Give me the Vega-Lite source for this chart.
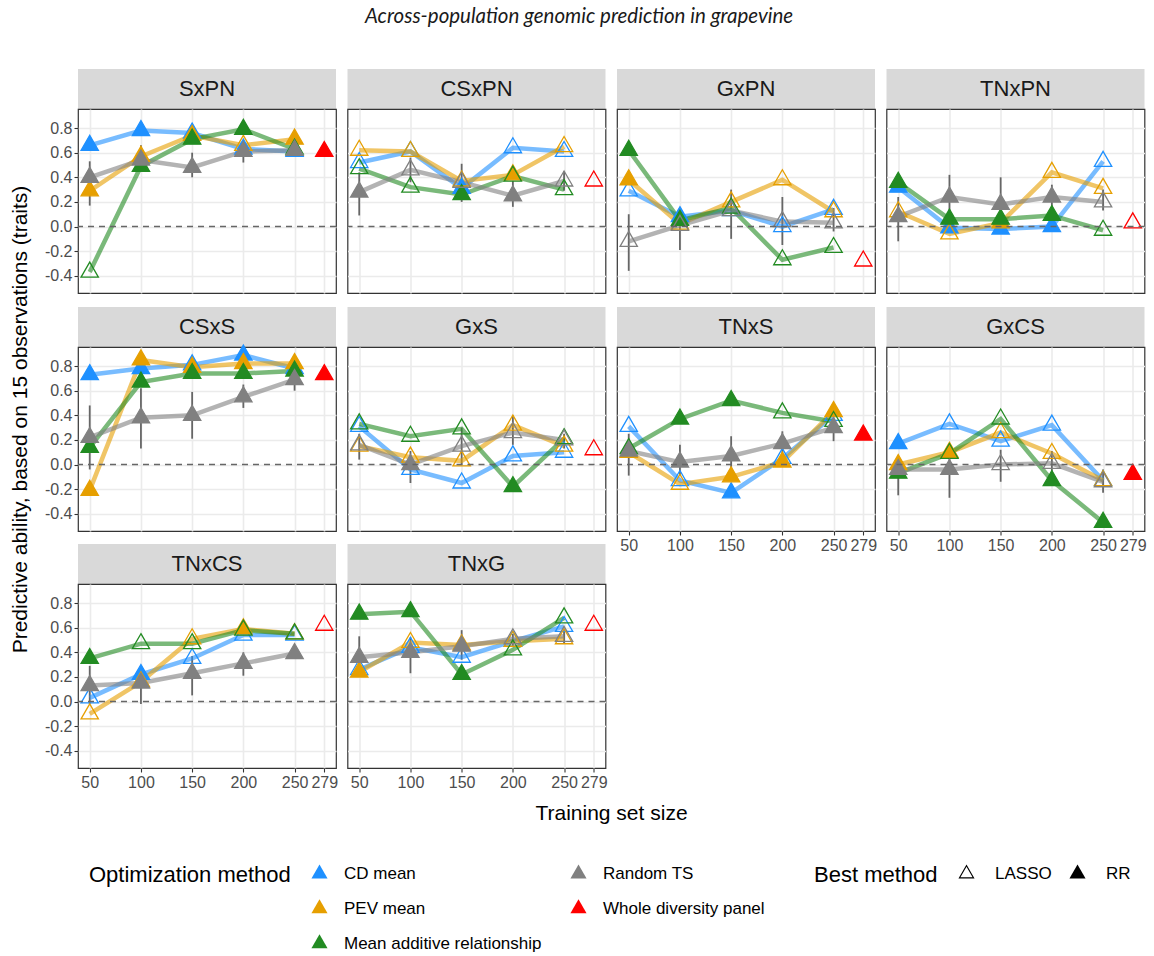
{
  "$schema": "https://vega.github.io/schema/vega-lite/v6.json",
  "autosize": {"type": "pad"},
  "padding": {"left": 8, "top": 6, "right": 0, "bottom": 0},
  "background": "white",
  "title": {"text": "Across-population genomic prediction in grapevine", "font": "Lato", "fontStyle": "italic", "fontWeight": "normal", "fontSize": 20.5, "color": "#1a1a1a", "anchor": "start", "frame": "group", "dx": 287, "baseline": "alphabetic", "offset": 26},
  "datasets": {
    "pts": [
      {"panel": "SxPN", "method": "CD mean", "size": 50, "value": 0.66, "best": "RR"},
      {"panel": "SxPN", "method": "CD mean", "size": 100, "value": 0.78, "best": "RR"},
      {"panel": "SxPN", "method": "CD mean", "size": 150, "value": 0.76, "best": "RR"},
      {"panel": "SxPN", "method": "CD mean", "size": 200, "value": 0.63, "best": "RR"},
      {"panel": "SxPN", "method": "CD mean", "size": 250, "value": 0.61, "best": "RR"},
      {"panel": "SxPN", "method": "PEV mean", "size": 50, "value": 0.29, "best": "RR"},
      {"panel": "SxPN", "method": "PEV mean", "size": 100, "value": 0.57, "best": "RR"},
      {"panel": "SxPN", "method": "PEV mean", "size": 150, "value": 0.74, "best": "RR"},
      {"panel": "SxPN", "method": "PEV mean", "size": 200, "value": 0.66, "best": "LASSO"},
      {"panel": "SxPN", "method": "PEV mean", "size": 250, "value": 0.71, "best": "RR"},
      {"panel": "SxPN", "method": "Mean additive relationship", "size": 50, "value": -0.37, "best": "LASSO"},
      {"panel": "SxPN", "method": "Mean additive relationship", "size": 100, "value": 0.49, "best": "RR"},
      {"panel": "SxPN", "method": "Mean additive relationship", "size": 150, "value": 0.71, "best": "RR"},
      {"panel": "SxPN", "method": "Mean additive relationship", "size": 200, "value": 0.79, "best": "RR"},
      {"panel": "SxPN", "method": "Mean additive relationship", "size": 250, "value": 0.63, "best": "RR"},
      {"panel": "SxPN", "method": "Random TS", "size": 50, "value": 0.40, "best": "RR"},
      {"panel": "SxPN", "method": "Random TS", "size": 100, "value": 0.54, "best": "RR"},
      {"panel": "SxPN", "method": "Random TS", "size": 150, "value": 0.48, "best": "RR"},
      {"panel": "SxPN", "method": "Random TS", "size": 200, "value": 0.61, "best": "RR"},
      {"panel": "SxPN", "method": "Random TS", "size": 250, "value": 0.62, "best": "RR"},
      {"panel": "SxPN", "method": "Whole diversity panel", "size": 279, "value": 0.61, "best": "RR"},

      {"panel": "CSxPN", "method": "CD mean", "size": 50, "value": 0.52, "best": "LASSO"},
      {"panel": "CSxPN", "method": "CD mean", "size": 100, "value": 0.61, "best": "LASSO"},
      {"panel": "CSxPN", "method": "CD mean", "size": 150, "value": 0.31, "best": "RR"},
      {"panel": "CSxPN", "method": "CD mean", "size": 200, "value": 0.64, "best": "LASSO"},
      {"panel": "CSxPN", "method": "CD mean", "size": 250, "value": 0.61, "best": "LASSO"},
      {"panel": "CSxPN", "method": "PEV mean", "size": 50, "value": 0.62, "best": "LASSO"},
      {"panel": "CSxPN", "method": "PEV mean", "size": 100, "value": 0.61, "best": "LASSO"},
      {"panel": "CSxPN", "method": "PEV mean", "size": 150, "value": 0.37, "best": "LASSO"},
      {"panel": "CSxPN", "method": "PEV mean", "size": 200, "value": 0.42, "best": "RR"},
      {"panel": "CSxPN", "method": "PEV mean", "size": 250, "value": 0.65, "best": "LASSO"},
      {"panel": "CSxPN", "method": "Mean additive relationship", "size": 50, "value": 0.47, "best": "LASSO"},
      {"panel": "CSxPN", "method": "Mean additive relationship", "size": 100, "value": 0.32, "best": "LASSO"},
      {"panel": "CSxPN", "method": "Mean additive relationship", "size": 150, "value": 0.26, "best": "RR"},
      {"panel": "CSxPN", "method": "Mean additive relationship", "size": 200, "value": 0.41, "best": "LASSO"},
      {"panel": "CSxPN", "method": "Mean additive relationship", "size": 250, "value": 0.30, "best": "LASSO"},
      {"panel": "CSxPN", "method": "Random TS", "size": 50, "value": 0.28, "best": "RR"},
      {"panel": "CSxPN", "method": "Random TS", "size": 100, "value": 0.46, "best": "LASSO"},
      {"panel": "CSxPN", "method": "Random TS", "size": 150, "value": 0.36, "best": "LASSO"},
      {"panel": "CSxPN", "method": "Random TS", "size": 200, "value": 0.25, "best": "RR"},
      {"panel": "CSxPN", "method": "Random TS", "size": 250, "value": 0.37, "best": "LASSO"},
      {"panel": "CSxPN", "method": "Whole diversity panel", "size": 279, "value": 0.37, "best": "LASSO"},

      {"panel": "GxPN", "method": "CD mean", "size": 50, "value": 0.29, "best": "LASSO"},
      {"panel": "GxPN", "method": "CD mean", "size": 100, "value": 0.08, "best": "RR"},
      {"panel": "GxPN", "method": "CD mean", "size": 150, "value": 0.13, "best": "LASSO"},
      {"panel": "GxPN", "method": "CD mean", "size": 200, "value": 0.0, "best": "LASSO"},
      {"panel": "GxPN", "method": "CD mean", "size": 250, "value": 0.14, "best": "LASSO"},
      {"panel": "GxPN", "method": "PEV mean", "size": 50, "value": 0.38, "best": "RR"},
      {"panel": "GxPN", "method": "PEV mean", "size": 100, "value": 0.02, "best": "LASSO"},
      {"panel": "GxPN", "method": "PEV mean", "size": 150, "value": 0.20, "best": "LASSO"},
      {"panel": "GxPN", "method": "PEV mean", "size": 200, "value": 0.38, "best": "LASSO"},
      {"panel": "GxPN", "method": "PEV mean", "size": 250, "value": 0.12, "best": "LASSO"},
      {"panel": "GxPN", "method": "Mean additive relationship", "size": 50, "value": 0.62, "best": "RR"},
      {"panel": "GxPN", "method": "Mean additive relationship", "size": 100, "value": 0.05, "best": "RR"},
      {"panel": "GxPN", "method": "Mean additive relationship", "size": 150, "value": 0.15, "best": "LASSO"},
      {"panel": "GxPN", "method": "Mean additive relationship", "size": 200, "value": -0.27, "best": "LASSO"},
      {"panel": "GxPN", "method": "Mean additive relationship", "size": 250, "value": -0.17, "best": "LASSO"},
      {"panel": "GxPN", "method": "Random TS", "size": 50, "value": -0.12, "best": "LASSO"},
      {"panel": "GxPN", "method": "Random TS", "size": 100, "value": 0.01, "best": "LASSO"},
      {"panel": "GxPN", "method": "Random TS", "size": 150, "value": 0.13, "best": "LASSO"},
      {"panel": "GxPN", "method": "Random TS", "size": 200, "value": 0.04, "best": "LASSO"},
      {"panel": "GxPN", "method": "Random TS", "size": 250, "value": 0.03, "best": "LASSO"},
      {"panel": "GxPN", "method": "Whole diversity panel", "size": 279, "value": -0.28, "best": "LASSO"},

      {"panel": "TNxPN", "method": "CD mean", "size": 50, "value": 0.32, "best": "RR"},
      {"panel": "TNxPN", "method": "CD mean", "size": 100, "value": -0.01, "best": "RR"},
      {"panel": "TNxPN", "method": "CD mean", "size": 150, "value": -0.02, "best": "RR"},
      {"panel": "TNxPN", "method": "CD mean", "size": 200, "value": 0.0, "best": "RR"},
      {"panel": "TNxPN", "method": "CD mean", "size": 250, "value": 0.53, "best": "LASSO"},
      {"panel": "TNxPN", "method": "PEV mean", "size": 50, "value": 0.12, "best": "LASSO"},
      {"panel": "TNxPN", "method": "PEV mean", "size": 100, "value": -0.06, "best": "LASSO"},
      {"panel": "TNxPN", "method": "PEV mean", "size": 150, "value": 0.03, "best": "RR"},
      {"panel": "TNxPN", "method": "PEV mean", "size": 200, "value": 0.44, "best": "LASSO"},
      {"panel": "TNxPN", "method": "PEV mean", "size": 250, "value": 0.31, "best": "LASSO"},
      {"panel": "TNxPN", "method": "Mean additive relationship", "size": 50, "value": 0.36, "best": "RR"},
      {"panel": "TNxPN", "method": "Mean additive relationship", "size": 100, "value": 0.06, "best": "RR"},
      {"panel": "TNxPN", "method": "Mean additive relationship", "size": 150, "value": 0.06, "best": "RR"},
      {"panel": "TNxPN", "method": "Mean additive relationship", "size": 200, "value": 0.09, "best": "RR"},
      {"panel": "TNxPN", "method": "Mean additive relationship", "size": 250, "value": -0.03, "best": "LASSO"},
      {"panel": "TNxPN", "method": "Random TS", "size": 50, "value": 0.08, "best": "RR"},
      {"panel": "TNxPN", "method": "Random TS", "size": 100, "value": 0.24, "best": "RR"},
      {"panel": "TNxPN", "method": "Random TS", "size": 150, "value": 0.18, "best": "RR"},
      {"panel": "TNxPN", "method": "Random TS", "size": 200, "value": 0.24, "best": "RR"},
      {"panel": "TNxPN", "method": "Random TS", "size": 250, "value": 0.20, "best": "LASSO"},
      {"panel": "TNxPN", "method": "Whole diversity panel", "size": 279, "value": 0.03, "best": "LASSO"},

      {"panel": "CSxS", "method": "CD mean", "size": 50, "value": 0.73, "best": "RR"},
      {"panel": "CSxS", "method": "CD mean", "size": 100, "value": 0.78, "best": "RR"},
      {"panel": "CSxS", "method": "CD mean", "size": 150, "value": 0.81, "best": "RR"},
      {"panel": "CSxS", "method": "CD mean", "size": 200, "value": 0.89, "best": "RR"},
      {"panel": "CSxS", "method": "CD mean", "size": 250, "value": 0.78, "best": "RR"},
      {"panel": "CSxS", "method": "PEV mean", "size": 50, "value": -0.21, "best": "RR"},
      {"panel": "CSxS", "method": "PEV mean", "size": 100, "value": 0.85, "best": "RR"},
      {"panel": "CSxS", "method": "PEV mean", "size": 150, "value": 0.79, "best": "RR"},
      {"panel": "CSxS", "method": "PEV mean", "size": 200, "value": 0.82, "best": "RR"},
      {"panel": "CSxS", "method": "PEV mean", "size": 250, "value": 0.82, "best": "RR"},
      {"panel": "CSxS", "method": "Mean additive relationship", "size": 50, "value": 0.14, "best": "RR"},
      {"panel": "CSxS", "method": "Mean additive relationship", "size": 100, "value": 0.67, "best": "RR"},
      {"panel": "CSxS", "method": "Mean additive relationship", "size": 150, "value": 0.74, "best": "RR"},
      {"panel": "CSxS", "method": "Mean additive relationship", "size": 200, "value": 0.74, "best": "RR"},
      {"panel": "CSxS", "method": "Mean additive relationship", "size": 250, "value": 0.76, "best": "RR"},
      {"panel": "CSxS", "method": "Random TS", "size": 50, "value": 0.22, "best": "RR"},
      {"panel": "CSxS", "method": "Random TS", "size": 100, "value": 0.38, "best": "RR"},
      {"panel": "CSxS", "method": "Random TS", "size": 150, "value": 0.40, "best": "RR"},
      {"panel": "CSxS", "method": "Random TS", "size": 200, "value": 0.55, "best": "RR"},
      {"panel": "CSxS", "method": "Random TS", "size": 250, "value": 0.69, "best": "RR"},
      {"panel": "CSxS", "method": "Whole diversity panel", "size": 279, "value": 0.73, "best": "RR"},

      {"panel": "GxS", "method": "CD mean", "size": 50, "value": 0.31, "best": "LASSO"},
      {"panel": "GxS", "method": "CD mean", "size": 100, "value": -0.04, "best": "LASSO"},
      {"panel": "GxS", "method": "CD mean", "size": 150, "value": -0.15, "best": "LASSO"},
      {"panel": "GxS", "method": "CD mean", "size": 200, "value": 0.07, "best": "LASSO"},
      {"panel": "GxS", "method": "CD mean", "size": 250, "value": 0.10, "best": "LASSO"},
      {"panel": "GxS", "method": "PEV mean", "size": 50, "value": 0.15, "best": "LASSO"},
      {"panel": "GxS", "method": "PEV mean", "size": 100, "value": 0.06, "best": "LASSO"},
      {"panel": "GxS", "method": "PEV mean", "size": 150, "value": 0.03, "best": "LASSO"},
      {"panel": "GxS", "method": "PEV mean", "size": 200, "value": 0.32, "best": "LASSO"},
      {"panel": "GxS", "method": "PEV mean", "size": 250, "value": 0.15, "best": "LASSO"},
      {"panel": "GxS", "method": "Mean additive relationship", "size": 50, "value": 0.33, "best": "LASSO"},
      {"panel": "GxS", "method": "Mean additive relationship", "size": 100, "value": 0.23, "best": "LASSO"},
      {"panel": "GxS", "method": "Mean additive relationship", "size": 150, "value": 0.29, "best": "LASSO"},
      {"panel": "GxS", "method": "Mean additive relationship", "size": 200, "value": -0.18, "best": "RR"},
      {"panel": "GxS", "method": "Mean additive relationship", "size": 250, "value": 0.21, "best": "LASSO"},
      {"panel": "GxS", "method": "Random TS", "size": 50, "value": 0.16, "best": "LASSO"},
      {"panel": "GxS", "method": "Random TS", "size": 100, "value": 0.0, "best": "RR"},
      {"panel": "GxS", "method": "Random TS", "size": 150, "value": 0.15, "best": "LASSO"},
      {"panel": "GxS", "method": "Random TS", "size": 200, "value": 0.26, "best": "LASSO"},
      {"panel": "GxS", "method": "Random TS", "size": 250, "value": 0.20, "best": "LASSO"},
      {"panel": "GxS", "method": "Whole diversity panel", "size": 279, "value": 0.12, "best": "LASSO"},

      {"panel": "TNxS", "method": "CD mean", "size": 50, "value": 0.31, "best": "LASSO"},
      {"panel": "TNxS", "method": "CD mean", "size": 100, "value": -0.13, "best": "LASSO"},
      {"panel": "TNxS", "method": "CD mean", "size": 150, "value": -0.23, "best": "RR"},
      {"panel": "TNxS", "method": "CD mean", "size": 200, "value": 0.05, "best": "LASSO"},
      {"panel": "TNxS", "method": "CD mean", "size": 250, "value": 0.40, "best": "LASSO"},
      {"panel": "TNxS", "method": "PEV mean", "size": 50, "value": 0.10, "best": "RR"},
      {"panel": "TNxS", "method": "PEV mean", "size": 100, "value": -0.16, "best": "LASSO"},
      {"panel": "TNxS", "method": "PEV mean", "size": 150, "value": -0.10, "best": "RR"},
      {"panel": "TNxS", "method": "PEV mean", "size": 200, "value": 0.02, "best": "RR"},
      {"panel": "TNxS", "method": "PEV mean", "size": 250, "value": 0.43, "best": "RR"},
      {"panel": "TNxS", "method": "Mean additive relationship", "size": 50, "value": 0.13, "best": "RR"},
      {"panel": "TNxS", "method": "Mean additive relationship", "size": 100, "value": 0.37, "best": "RR"},
      {"panel": "TNxS", "method": "Mean additive relationship", "size": 150, "value": 0.52, "best": "RR"},
      {"panel": "TNxS", "method": "Mean additive relationship", "size": 200, "value": 0.42, "best": "LASSO"},
      {"panel": "TNxS", "method": "Mean additive relationship", "size": 250, "value": 0.35, "best": "LASSO"},
      {"panel": "TNxS", "method": "Random TS", "size": 50, "value": 0.11, "best": "RR"},
      {"panel": "TNxS", "method": "Random TS", "size": 100, "value": 0.02, "best": "RR"},
      {"panel": "TNxS", "method": "Random TS", "size": 150, "value": 0.07, "best": "RR"},
      {"panel": "TNxS", "method": "Random TS", "size": 200, "value": 0.17, "best": "RR"},
      {"panel": "TNxS", "method": "Random TS", "size": 250, "value": 0.30, "best": "RR"},
      {"panel": "TNxS", "method": "Whole diversity panel", "size": 279, "value": 0.24, "best": "RR"},

      {"panel": "GxCS", "method": "CD mean", "size": 50, "value": 0.17, "best": "RR"},
      {"panel": "GxCS", "method": "CD mean", "size": 100, "value": 0.33, "best": "LASSO"},
      {"panel": "GxCS", "method": "CD mean", "size": 150, "value": 0.19, "best": "LASSO"},
      {"panel": "GxCS", "method": "CD mean", "size": 200, "value": 0.32, "best": "LASSO"},
      {"panel": "GxCS", "method": "CD mean", "size": 250, "value": -0.13, "best": "LASSO"},
      {"panel": "GxCS", "method": "PEV mean", "size": 50, "value": 0.0, "best": "RR"},
      {"panel": "GxCS", "method": "PEV mean", "size": 100, "value": 0.10, "best": "RR"},
      {"panel": "GxCS", "method": "PEV mean", "size": 150, "value": 0.26, "best": "LASSO"},
      {"panel": "GxCS", "method": "PEV mean", "size": 200, "value": 0.09, "best": "LASSO"},
      {"panel": "GxCS", "method": "PEV mean", "size": 250, "value": -0.13, "best": "LASSO"},
      {"panel": "GxCS", "method": "Mean additive relationship", "size": 50, "value": -0.07, "best": "RR"},
      {"panel": "GxCS", "method": "Mean additive relationship", "size": 100, "value": 0.09, "best": "LASSO"},
      {"panel": "GxCS", "method": "Mean additive relationship", "size": 150, "value": 0.37, "best": "LASSO"},
      {"panel": "GxCS", "method": "Mean additive relationship", "size": 200, "value": -0.13, "best": "RR"},
      {"panel": "GxCS", "method": "Mean additive relationship", "size": 250, "value": -0.47, "best": "RR"},
      {"panel": "GxCS", "method": "Random TS", "size": 50, "value": -0.04, "best": "RR"},
      {"panel": "GxCS", "method": "Random TS", "size": 100, "value": -0.04, "best": "RR"},
      {"panel": "GxCS", "method": "Random TS", "size": 150, "value": 0.0, "best": "LASSO"},
      {"panel": "GxCS", "method": "Random TS", "size": 200, "value": 0.01, "best": "LASSO"},
      {"panel": "GxCS", "method": "Random TS", "size": 250, "value": -0.14, "best": "LASSO"},
      {"panel": "GxCS", "method": "Whole diversity panel", "size": 279, "value": -0.08, "best": "RR"},

      {"panel": "TNxCS", "method": "CD mean", "size": 50, "value": 0.03, "best": "LASSO"},
      {"panel": "TNxCS", "method": "CD mean", "size": 100, "value": 0.22, "best": "RR"},
      {"panel": "TNxCS", "method": "CD mean", "size": 150, "value": 0.35, "best": "LASSO"},
      {"panel": "TNxCS", "method": "CD mean", "size": 200, "value": 0.54, "best": "LASSO"},
      {"panel": "TNxCS", "method": "CD mean", "size": 250, "value": 0.54, "best": "LASSO"},
      {"panel": "TNxCS", "method": "PEV mean", "size": 50, "value": -0.10, "best": "LASSO"},
      {"panel": "TNxCS", "method": "PEV mean", "size": 100, "value": 0.16, "best": "RR"},
      {"panel": "TNxCS", "method": "PEV mean", "size": 150, "value": 0.51, "best": "LASSO"},
      {"panel": "TNxCS", "method": "PEV mean", "size": 200, "value": 0.59, "best": "RR"},
      {"panel": "TNxCS", "method": "PEV mean", "size": 250, "value": 0.55, "best": "LASSO"},
      {"panel": "TNxCS", "method": "Mean additive relationship", "size": 50, "value": 0.35, "best": "RR"},
      {"panel": "TNxCS", "method": "Mean additive relationship", "size": 100, "value": 0.47, "best": "LASSO"},
      {"panel": "TNxCS", "method": "Mean additive relationship", "size": 150, "value": 0.47, "best": "LASSO"},
      {"panel": "TNxCS", "method": "Mean additive relationship", "size": 200, "value": 0.58, "best": "LASSO"},
      {"panel": "TNxCS", "method": "Mean additive relationship", "size": 250, "value": 0.55, "best": "LASSO"},
      {"panel": "TNxCS", "method": "Random TS", "size": 50, "value": 0.13, "best": "RR"},
      {"panel": "TNxCS", "method": "Random TS", "size": 100, "value": 0.15, "best": "RR"},
      {"panel": "TNxCS", "method": "Random TS", "size": 150, "value": 0.23, "best": "RR"},
      {"panel": "TNxCS", "method": "Random TS", "size": 200, "value": 0.31, "best": "RR"},
      {"panel": "TNxCS", "method": "Random TS", "size": 250, "value": 0.39, "best": "RR"},
      {"panel": "TNxCS", "method": "Whole diversity panel", "size": 279, "value": 0.62, "best": "LASSO"},

      {"panel": "TNxG", "method": "CD mean", "size": 50, "value": 0.26, "best": "LASSO"},
      {"panel": "TNxG", "method": "CD mean", "size": 100, "value": 0.44, "best": "LASSO"},
      {"panel": "TNxG", "method": "CD mean", "size": 150, "value": 0.36, "best": "LASSO"},
      {"panel": "TNxG", "method": "CD mean", "size": 200, "value": 0.49, "best": "LASSO"},
      {"panel": "TNxG", "method": "CD mean", "size": 250, "value": 0.61, "best": "LASSO"},
      {"panel": "TNxG", "method": "PEV mean", "size": 50, "value": 0.24, "best": "RR"},
      {"panel": "TNxG", "method": "PEV mean", "size": 100, "value": 0.48, "best": "LASSO"},
      {"panel": "TNxG", "method": "PEV mean", "size": 150, "value": 0.46, "best": "RR"},
      {"panel": "TNxG", "method": "PEV mean", "size": 200, "value": 0.49, "best": "LASSO"},
      {"panel": "TNxG", "method": "PEV mean", "size": 250, "value": 0.51, "best": "LASSO"},
      {"panel": "TNxG", "method": "Mean additive relationship", "size": 50, "value": 0.71, "best": "RR"},
      {"panel": "TNxG", "method": "Mean additive relationship", "size": 100, "value": 0.73, "best": "RR"},
      {"panel": "TNxG", "method": "Mean additive relationship", "size": 150, "value": 0.22, "best": "RR"},
      {"panel": "TNxG", "method": "Mean additive relationship", "size": 200, "value": 0.42, "best": "LASSO"},
      {"panel": "TNxG", "method": "Mean additive relationship", "size": 250, "value": 0.68, "best": "LASSO"},
      {"panel": "TNxG", "method": "Random TS", "size": 50, "value": 0.36, "best": "RR"},
      {"panel": "TNxG", "method": "Random TS", "size": 100, "value": 0.40, "best": "RR"},
      {"panel": "TNxG", "method": "Random TS", "size": 150, "value": 0.45, "best": "RR"},
      {"panel": "TNxG", "method": "Random TS", "size": 200, "value": 0.51, "best": "LASSO"},
      {"panel": "TNxG", "method": "Random TS", "size": 250, "value": 0.53, "best": "LASSO"},
      {"panel": "TNxG", "method": "Whole diversity panel", "size": 279, "value": 0.62, "best": "LASSO"}
    ],
    "err": [
      {"panel": "SxPN", "size": 50, "lo": 0.17, "hi": 0.53}, {"panel": "SxPN", "size": 100, "lo": 0.48, "hi": 0.66}, {"panel": "SxPN", "size": 150, "lo": 0.40, "hi": 0.60}, {"panel": "SxPN", "size": 200, "lo": 0.52, "hi": 0.68}, {"panel": "SxPN", "size": 250, "lo": 0.58, "hi": 0.68},
      {"panel": "CSxPN", "size": 50, "lo": 0.09, "hi": 0.44}, {"panel": "CSxPN", "size": 100, "lo": 0.36, "hi": 0.56}, {"panel": "CSxPN", "size": 150, "lo": 0.20, "hi": 0.51}, {"panel": "CSxPN", "size": 200, "lo": 0.16, "hi": 0.37}, {"panel": "CSxPN", "size": 250, "lo": 0.29, "hi": 0.45},
      {"panel": "GxPN", "size": 50, "lo": -0.36, "hi": 0.10}, {"panel": "GxPN", "size": 100, "lo": -0.19, "hi": 0.13}, {"panel": "GxPN", "size": 150, "lo": -0.10, "hi": 0.30}, {"panel": "GxPN", "size": 200, "lo": -0.15, "hi": 0.24}, {"panel": "GxPN", "size": 250, "lo": -0.04, "hi": 0.15},
      {"panel": "TNxPN", "size": 50, "lo": -0.12, "hi": 0.24}, {"panel": "TNxPN", "size": 100, "lo": 0.05, "hi": 0.42}, {"panel": "TNxPN", "size": 150, "lo": 0.03, "hi": 0.40}, {"panel": "TNxPN", "size": 200, "lo": 0.14, "hi": 0.34}, {"panel": "TNxPN", "size": 250, "lo": 0.13, "hi": 0.30},
      {"panel": "CSxS", "size": 50, "lo": -0.04, "hi": 0.48}, {"panel": "CSxS", "size": 100, "lo": 0.13, "hi": 0.62}, {"panel": "CSxS", "size": 150, "lo": 0.21, "hi": 0.59}, {"panel": "CSxS", "size": 200, "lo": 0.46, "hi": 0.65}, {"panel": "CSxS", "size": 250, "lo": 0.60, "hi": 0.77},
      {"panel": "GxS", "size": 50, "lo": 0.04, "hi": 0.25}, {"panel": "GxS", "size": 100, "lo": -0.15, "hi": 0.11}, {"panel": "GxS", "size": 150, "lo": 0.0, "hi": 0.30}, {"panel": "GxS", "size": 200, "lo": 0.16, "hi": 0.40}, {"panel": "GxS", "size": 250, "lo": 0.13, "hi": 0.25},
      {"panel": "TNxS", "size": 50, "lo": -0.09, "hi": 0.25}, {"panel": "TNxS", "size": 100, "lo": -0.09, "hi": 0.16}, {"panel": "TNxS", "size": 150, "lo": -0.04, "hi": 0.23}, {"panel": "TNxS", "size": 200, "lo": 0.08, "hi": 0.27}, {"panel": "TNxS", "size": 250, "lo": 0.19, "hi": 0.38},
      {"panel": "GxCS", "size": 50, "lo": -0.25, "hi": 0.06}, {"panel": "GxCS", "size": 100, "lo": -0.27, "hi": 0.14}, {"panel": "GxCS", "size": 150, "lo": -0.14, "hi": 0.12}, {"panel": "GxCS", "size": 200, "lo": -0.08, "hi": 0.11}, {"panel": "GxCS", "size": 250, "lo": -0.23, "hi": -0.04},
      {"panel": "TNxCS", "size": 50, "lo": -0.02, "hi": 0.29}, {"panel": "TNxCS", "size": 100, "lo": -0.02, "hi": 0.27}, {"panel": "TNxCS", "size": 150, "lo": 0.05, "hi": 0.37}, {"panel": "TNxCS", "size": 200, "lo": 0.21, "hi": 0.40}, {"panel": "TNxCS", "size": 250, "lo": 0.35, "hi": 0.44},
      {"panel": "TNxG", "size": 50, "lo": 0.23, "hi": 0.53}, {"panel": "TNxG", "size": 100, "lo": 0.23, "hi": 0.52}, {"panel": "TNxG", "size": 150, "lo": 0.34, "hi": 0.58}, {"panel": "TNxG", "size": 200, "lo": 0.45, "hi": 0.55}, {"panel": "TNxG", "size": 250, "lo": 0.47, "hi": 0.58}
    ]
  },
  "columns": 4,
  "spacing": {"row": 0, "column": 11.5},
  "bounds": "flush",
  "align": "each",
  "resolve": {"scale": {"color": "shared", "stroke": "shared", "fillOpacity": "shared", "shape": "shared"}, "legend": {"color": "shared", "shape": "shared"}},
  "concat": [
    {"width": 258, "height": 40, "data": {"values": [{"panel": "SxPN"}]}, "mark": {"type": "text", "fontSize": 22, "color": "#1a1a1a"}, "encoding": {"text": {"field": "panel"}}, "view": {"fill": "#d9d9d9"}},
    {"width": 258, "height": 40, "data": {"values": [{"panel": "CSxPN"}]}, "mark": {"type": "text", "fontSize": 22, "color": "#1a1a1a"}, "encoding": {"text": {"field": "panel"}}, "view": {"fill": "#d9d9d9"}},
    {"width": 258, "height": 40, "data": {"values": [{"panel": "GxPN"}]}, "mark": {"type": "text", "fontSize": 22, "color": "#1a1a1a"}, "encoding": {"text": {"field": "panel"}}, "view": {"fill": "#d9d9d9"}},
    {"width": 258, "height": 40, "data": {"values": [{"panel": "TNxPN"}]}, "mark": {"type": "text", "fontSize": 22, "color": "#1a1a1a"}, "encoding": {"text": {"field": "panel"}}, "view": {"fill": "#d9d9d9"}},

    {"width": 258, "height": 184, "resolve": {"axis": {"y": "independent"}}, "layer": [
      {"data": {"name": "err"}, "transform": [{"filter": "datum.panel == 'SxPN'"}], "mark": {"type": "rule", "color": "#666666", "strokeWidth": 1.8},
       "encoding": {"x": {"field": "size", "type": "quantitative", "scale": {"domain": [38.55, 290.45], "nice": false, "zero": false}, "axis": {"values": [50, 75, 100, 125, 150, 175, 200, 225, 250, 264.5, 279], "title": null, "labels": false, "ticks": false}},
                    "y": {"field": "lo", "type": "quantitative", "scale": {"domain": [-0.54, 0.955], "nice": false, "zero": false}, "axis": {"values": [-0.4, -0.2, 0, 0.2, 0.4, 0.6, 0.8], "format": ".1f", "title": null, "labelOverlap": false}},
                    "y2": {"field": "hi"}}},
      {"data": {"name": "pts"}, "transform": [{"filter": "datum.panel == 'SxPN' && datum.method != 'Whole diversity panel'"}], "mark": {"type": "line", "strokeWidth": 4.5, "strokeOpacity": 0.6},
       "encoding": {"x": {"field": "size", "type": "quantitative"}, "y": {"field": "value", "type": "quantitative", "axis": null}, "color": {"field": "method", "type": "nominal", "scale": {"domain": ["CD mean", "PEV mean", "Mean additive relationship", "Random TS", "Whole diversity panel"], "range": ["#1E90FF", "#E69F00", "#228B22", "#808080", "#FF0000"]}}}},
      {"data": {"name": "pts"}, "transform": [{"filter": "datum.panel == 'SxPN'"}], "mark": {"type": "point", "filled": true, "shape": "M0,-1.155L1,0.577L-1,0.577Z", "size": 300, "strokeWidth": 1.3, "opacity": 1},
       "encoding": {"x": {"field": "size", "type": "quantitative"}, "y": {"field": "value", "type": "quantitative", "axis": null},
                    "color": {"field": "method", "type": "nominal", "scale": {"domain": ["CD mean", "PEV mean", "Mean additive relationship", "Random TS", "Whole diversity panel"], "range": ["#1E90FF", "#E69F00", "#228B22", "#808080", "#FF0000"]},
                              "legend": {"title": "Optimization method", "orient": "none", "legendX": 11, "legendY": 796, "columns": 2, "direction": "vertical", "titleOrient": "left", "titleAnchor": "start", "titleBaseline": "top", "titleFontSize": 22, "titleFontWeight": "normal", "titleColor": "#000000", "titlePadding": 20, "titleLimit": 400, "labelLimit": 400, "labelFontSize": 17, "labelColor": "#000000", "symbolType": "M0,-1.155L1,0.577L-1,0.577Z", "symbolSize": 260, "symbolStrokeWidth": 0, "symbolOpacity": 1, "rowPadding": 17, "columnPadding": 28, "labelOffset": 16}},
                    "stroke": {"field": "method", "type": "nominal", "scale": {"domain": ["CD mean", "PEV mean", "Mean additive relationship", "Random TS", "Whole diversity panel"], "range": ["#1E90FF", "#E69F00", "#228B22", "#808080", "#FF0000"]}, "legend": null},
                    "fillOpacity": {"field": "best", "type": "ordinal", "scale": {"domain": ["LASSO", "RR"], "range": [0, 1]}, "legend": null}}},
      {"data": {"values": []}, "mark": {"type": "point", "filled": true, "color": "#000000", "opacity": 1},
       "encoding": {"shape": {"field": "best", "type": "nominal", "scale": {"domain": ["LASSO", "RR"], "range": ["M0,-1.155L1,0.577L-1,0.577Z M0,-0.866L-0.75,0.433L0.75,0.433Z", "M0,-1.155L1,0.577L-1,0.577Z"]},
                              "legend": {"title": "Best method", "orient": "none", "legendX": 736, "legendY": 796, "direction": "horizontal", "titleOrient": "left", "titleAnchor": "start", "titleBaseline": "top", "titleFontSize": 22, "titleFontWeight": "normal", "titleColor": "#000000", "titlePadding": 20, "titleLimit": 300, "labelFontSize": 17, "labelColor": "#000000", "symbolSize": 260, "symbolStrokeWidth": 0, "symbolFillColor": "#000000", "symbolOpacity": 1, "columnPadding": 17, "labelOffset": 20}}}},
      {"data": {"values": [{"z": 0}]}, "mark": {"type": "rule", "strokeDash": [6, 5], "color": "#666666", "strokeWidth": 1.4}, "encoding": {"y": {"field": "z", "type": "quantitative", "axis": {"values": [-0.5, -0.3, -0.1, 0.1, 0.3, 0.5, 0.7, 0.9], "orient": "left", "title": null, "labels": false, "ticks": false, "gridWidth": 0.8}}}}
    ]},
    {"width": 258, "height": 184, "resolve": {"axis": {"y": "independent"}}, "layer": [
      {"data": {"name": "err"}, "transform": [{"filter": "datum.panel == 'CSxPN'"}], "mark": {"type": "rule", "color": "#666666", "strokeWidth": 1.8},
       "encoding": {"x": {"field": "size", "type": "quantitative", "scale": {"domain": [38.55, 290.45], "nice": false, "zero": false}, "axis": {"values": [50, 75, 100, 125, 150, 175, 200, 225, 250, 264.5, 279], "title": null, "labels": false, "ticks": false}},
                    "y": {"field": "lo", "type": "quantitative", "scale": {"domain": [-0.54, 0.955], "nice": false, "zero": false}, "axis": {"values": [-0.4, -0.2, 0, 0.2, 0.4, 0.6, 0.8], "title": null, "labels": false, "ticks": false}},
                    "y2": {"field": "hi"}}},
      {"data": {"name": "pts"}, "transform": [{"filter": "datum.panel == 'CSxPN' && datum.method != 'Whole diversity panel'"}], "mark": {"type": "line", "strokeWidth": 4.5, "strokeOpacity": 0.6},
       "encoding": {"x": {"field": "size", "type": "quantitative"}, "y": {"field": "value", "type": "quantitative", "axis": null}, "color": {"field": "method", "type": "nominal"}}},
      {"data": {"name": "pts"}, "transform": [{"filter": "datum.panel == 'CSxPN'"}], "mark": {"type": "point", "filled": true, "shape": "M0,-1.155L1,0.577L-1,0.577Z", "size": 300, "strokeWidth": 1.3, "opacity": 1},
       "encoding": {"x": {"field": "size", "type": "quantitative"}, "y": {"field": "value", "type": "quantitative", "axis": null}, "color": {"field": "method", "type": "nominal"}, "stroke": {"field": "method", "type": "nominal", "legend": null}, "fillOpacity": {"field": "best", "type": "ordinal", "legend": null}}},
      {"data": {"values": [{"z": 0}]}, "mark": {"type": "rule", "strokeDash": [6, 5], "color": "#666666", "strokeWidth": 1.4}, "encoding": {"y": {"field": "z", "type": "quantitative", "axis": {"values": [-0.5, -0.3, -0.1, 0.1, 0.3, 0.5, 0.7, 0.9], "orient": "left", "title": null, "labels": false, "ticks": false, "gridWidth": 0.8}}}}
    ]},
    {"width": 258, "height": 184, "resolve": {"axis": {"y": "independent"}}, "layer": [
      {"data": {"name": "err"}, "transform": [{"filter": "datum.panel == 'GxPN'"}], "mark": {"type": "rule", "color": "#666666", "strokeWidth": 1.8},
       "encoding": {"x": {"field": "size", "type": "quantitative", "scale": {"domain": [38.55, 290.45], "nice": false, "zero": false}, "axis": {"values": [50, 75, 100, 125, 150, 175, 200, 225, 250, 264.5, 279], "title": null, "labels": false, "ticks": false}},
                    "y": {"field": "lo", "type": "quantitative", "scale": {"domain": [-0.54, 0.955], "nice": false, "zero": false}, "axis": {"values": [-0.4, -0.2, 0, 0.2, 0.4, 0.6, 0.8], "title": null, "labels": false, "ticks": false}},
                    "y2": {"field": "hi"}}},
      {"data": {"name": "pts"}, "transform": [{"filter": "datum.panel == 'GxPN' && datum.method != 'Whole diversity panel'"}], "mark": {"type": "line", "strokeWidth": 4.5, "strokeOpacity": 0.6},
       "encoding": {"x": {"field": "size", "type": "quantitative"}, "y": {"field": "value", "type": "quantitative", "axis": null}, "color": {"field": "method", "type": "nominal"}}},
      {"data": {"name": "pts"}, "transform": [{"filter": "datum.panel == 'GxPN'"}], "mark": {"type": "point", "filled": true, "shape": "M0,-1.155L1,0.577L-1,0.577Z", "size": 300, "strokeWidth": 1.3, "opacity": 1},
       "encoding": {"x": {"field": "size", "type": "quantitative"}, "y": {"field": "value", "type": "quantitative", "axis": null}, "color": {"field": "method", "type": "nominal"}, "stroke": {"field": "method", "type": "nominal", "legend": null}, "fillOpacity": {"field": "best", "type": "ordinal", "legend": null}}},
      {"data": {"values": [{"z": 0}]}, "mark": {"type": "rule", "strokeDash": [6, 5], "color": "#666666", "strokeWidth": 1.4}, "encoding": {"y": {"field": "z", "type": "quantitative", "axis": {"values": [-0.5, -0.3, -0.1, 0.1, 0.3, 0.5, 0.7, 0.9], "orient": "left", "title": null, "labels": false, "ticks": false, "gridWidth": 0.8}}}}
    ]},
    {"width": 258, "height": 184, "resolve": {"axis": {"y": "independent"}}, "layer": [
      {"data": {"name": "err"}, "transform": [{"filter": "datum.panel == 'TNxPN'"}], "mark": {"type": "rule", "color": "#666666", "strokeWidth": 1.8},
       "encoding": {"x": {"field": "size", "type": "quantitative", "scale": {"domain": [38.55, 290.45], "nice": false, "zero": false}, "axis": {"values": [50, 75, 100, 125, 150, 175, 200, 225, 250, 264.5, 279], "title": null, "labels": false, "ticks": false}},
                    "y": {"field": "lo", "type": "quantitative", "scale": {"domain": [-0.54, 0.955], "nice": false, "zero": false}, "axis": {"values": [-0.4, -0.2, 0, 0.2, 0.4, 0.6, 0.8], "title": null, "labels": false, "ticks": false}},
                    "y2": {"field": "hi"}}},
      {"data": {"name": "pts"}, "transform": [{"filter": "datum.panel == 'TNxPN' && datum.method != 'Whole diversity panel'"}], "mark": {"type": "line", "strokeWidth": 4.5, "strokeOpacity": 0.6},
       "encoding": {"x": {"field": "size", "type": "quantitative"}, "y": {"field": "value", "type": "quantitative", "axis": null}, "color": {"field": "method", "type": "nominal"}}},
      {"data": {"name": "pts"}, "transform": [{"filter": "datum.panel == 'TNxPN'"}], "mark": {"type": "point", "filled": true, "shape": "M0,-1.155L1,0.577L-1,0.577Z", "size": 300, "strokeWidth": 1.3, "opacity": 1},
       "encoding": {"x": {"field": "size", "type": "quantitative"}, "y": {"field": "value", "type": "quantitative", "axis": null}, "color": {"field": "method", "type": "nominal"}, "stroke": {"field": "method", "type": "nominal", "legend": null}, "fillOpacity": {"field": "best", "type": "ordinal", "legend": null}}},
      {"data": {"values": [{"z": 0}]}, "mark": {"type": "rule", "strokeDash": [6, 5], "color": "#666666", "strokeWidth": 1.4}, "encoding": {"y": {"field": "z", "type": "quantitative", "axis": {"values": [-0.5, -0.3, -0.1, 0.1, 0.3, 0.5, 0.7, 0.9], "orient": "left", "title": null, "labels": false, "ticks": false, "gridWidth": 0.8}}}}
    ]},

    {"width": 258, "height": 14, "data": {"values": []}, "mark": "text", "encoding": {}, "view": {"stroke": null}},
    {"width": 258, "height": 14, "data": {"values": []}, "mark": "text", "encoding": {}, "view": {"stroke": null}},
    {"width": 258, "height": 14, "data": {"values": []}, "mark": "text", "encoding": {}, "view": {"stroke": null}},
    {"width": 258, "height": 14, "data": {"values": []}, "mark": "text", "encoding": {}, "view": {"stroke": null}},

    {"width": 258, "height": 40, "data": {"values": [{"panel": "CSxS"}]}, "mark": {"type": "text", "fontSize": 22, "color": "#1a1a1a"}, "encoding": {"text": {"field": "panel"}}, "view": {"fill": "#d9d9d9"}},
    {"width": 258, "height": 40, "data": {"values": [{"panel": "GxS"}]}, "mark": {"type": "text", "fontSize": 22, "color": "#1a1a1a"}, "encoding": {"text": {"field": "panel"}}, "view": {"fill": "#d9d9d9"}},
    {"width": 258, "height": 40, "data": {"values": [{"panel": "TNxS"}]}, "mark": {"type": "text", "fontSize": 22, "color": "#1a1a1a"}, "encoding": {"text": {"field": "panel"}}, "view": {"fill": "#d9d9d9"}},
    {"width": 258, "height": 40, "data": {"values": [{"panel": "GxCS"}]}, "mark": {"type": "text", "fontSize": 22, "color": "#1a1a1a"}, "encoding": {"text": {"field": "panel"}}, "view": {"fill": "#d9d9d9"}},

    {"width": 258, "height": 184, "resolve": {"axis": {"y": "independent"}}, "layer": [
      {"data": {"name": "err"}, "transform": [{"filter": "datum.panel == 'CSxS'"}], "mark": {"type": "rule", "color": "#666666", "strokeWidth": 1.8},
       "encoding": {"x": {"field": "size", "type": "quantitative", "scale": {"domain": [38.55, 290.45], "nice": false, "zero": false}, "axis": {"values": [50, 75, 100, 125, 150, 175, 200, 225, 250, 264.5, 279], "title": null, "labels": false, "ticks": false}},
                    "y": {"field": "lo", "type": "quantitative", "scale": {"domain": [-0.54, 0.955], "nice": false, "zero": false}, "axis": {"values": [-0.4, -0.2, 0, 0.2, 0.4, 0.6, 0.8], "format": ".1f", "title": "Predictive ability, based on 15 observations (traits)", "titleY": 72, "titlePadding": 14, "labelOverlap": false}},
                    "y2": {"field": "hi"}}},
      {"data": {"name": "pts"}, "transform": [{"filter": "datum.panel == 'CSxS' && datum.method != 'Whole diversity panel'"}], "mark": {"type": "line", "strokeWidth": 4.5, "strokeOpacity": 0.6},
       "encoding": {"x": {"field": "size", "type": "quantitative"}, "y": {"field": "value", "type": "quantitative", "axis": null}, "color": {"field": "method", "type": "nominal"}}},
      {"data": {"name": "pts"}, "transform": [{"filter": "datum.panel == 'CSxS'"}], "mark": {"type": "point", "filled": true, "shape": "M0,-1.155L1,0.577L-1,0.577Z", "size": 300, "strokeWidth": 1.3, "opacity": 1},
       "encoding": {"x": {"field": "size", "type": "quantitative"}, "y": {"field": "value", "type": "quantitative", "axis": null}, "color": {"field": "method", "type": "nominal"}, "stroke": {"field": "method", "type": "nominal", "legend": null}, "fillOpacity": {"field": "best", "type": "ordinal", "legend": null}}},
      {"data": {"values": [{"z": 0}]}, "mark": {"type": "rule", "strokeDash": [6, 5], "color": "#666666", "strokeWidth": 1.4}, "encoding": {"y": {"field": "z", "type": "quantitative", "axis": {"values": [-0.5, -0.3, -0.1, 0.1, 0.3, 0.5, 0.7, 0.9], "orient": "left", "title": null, "labels": false, "ticks": false, "gridWidth": 0.8}}}}
    ]},
    {"width": 258, "height": 184, "resolve": {"axis": {"y": "independent"}}, "layer": [
      {"data": {"name": "err"}, "transform": [{"filter": "datum.panel == 'GxS'"}], "mark": {"type": "rule", "color": "#666666", "strokeWidth": 1.8},
       "encoding": {"x": {"field": "size", "type": "quantitative", "scale": {"domain": [38.55, 290.45], "nice": false, "zero": false}, "axis": {"values": [50, 75, 100, 125, 150, 175, 200, 225, 250, 264.5, 279], "title": null, "labels": false, "ticks": false}},
                    "y": {"field": "lo", "type": "quantitative", "scale": {"domain": [-0.54, 0.955], "nice": false, "zero": false}, "axis": {"values": [-0.4, -0.2, 0, 0.2, 0.4, 0.6, 0.8], "title": null, "labels": false, "ticks": false}},
                    "y2": {"field": "hi"}}},
      {"data": {"name": "pts"}, "transform": [{"filter": "datum.panel == 'GxS' && datum.method != 'Whole diversity panel'"}], "mark": {"type": "line", "strokeWidth": 4.5, "strokeOpacity": 0.6},
       "encoding": {"x": {"field": "size", "type": "quantitative"}, "y": {"field": "value", "type": "quantitative", "axis": null}, "color": {"field": "method", "type": "nominal"}}},
      {"data": {"name": "pts"}, "transform": [{"filter": "datum.panel == 'GxS'"}], "mark": {"type": "point", "filled": true, "shape": "M0,-1.155L1,0.577L-1,0.577Z", "size": 300, "strokeWidth": 1.3, "opacity": 1},
       "encoding": {"x": {"field": "size", "type": "quantitative"}, "y": {"field": "value", "type": "quantitative", "axis": null}, "color": {"field": "method", "type": "nominal"}, "stroke": {"field": "method", "type": "nominal", "legend": null}, "fillOpacity": {"field": "best", "type": "ordinal", "legend": null}}},
      {"data": {"values": [{"z": 0}]}, "mark": {"type": "rule", "strokeDash": [6, 5], "color": "#666666", "strokeWidth": 1.4}, "encoding": {"y": {"field": "z", "type": "quantitative", "axis": {"values": [-0.5, -0.3, -0.1, 0.1, 0.3, 0.5, 0.7, 0.9], "orient": "left", "title": null, "labels": false, "ticks": false, "gridWidth": 0.8}}}}
    ]},
    {"width": 258, "height": 184, "resolve": {"axis": {"y": "independent"}}, "layer": [
      {"data": {"name": "err"}, "transform": [{"filter": "datum.panel == 'TNxS'"}], "mark": {"type": "rule", "color": "#666666", "strokeWidth": 1.8},
       "encoding": {"x": {"field": "size", "type": "quantitative", "scale": {"domain": [38.55, 290.45], "nice": false, "zero": false}, "axis": {"values": [50, 75, 100, 125, 150, 175, 200, 225, 250, 264.5, 279], "title": null}},
                    "y": {"field": "lo", "type": "quantitative", "scale": {"domain": [-0.54, 0.955], "nice": false, "zero": false}, "axis": {"values": [-0.4, -0.2, 0, 0.2, 0.4, 0.6, 0.8], "title": null, "labels": false, "ticks": false}},
                    "y2": {"field": "hi"}}},
      {"data": {"name": "pts"}, "transform": [{"filter": "datum.panel == 'TNxS' && datum.method != 'Whole diversity panel'"}], "mark": {"type": "line", "strokeWidth": 4.5, "strokeOpacity": 0.6},
       "encoding": {"x": {"field": "size", "type": "quantitative"}, "y": {"field": "value", "type": "quantitative", "axis": null}, "color": {"field": "method", "type": "nominal"}}},
      {"data": {"name": "pts"}, "transform": [{"filter": "datum.panel == 'TNxS'"}], "mark": {"type": "point", "filled": true, "shape": "M0,-1.155L1,0.577L-1,0.577Z", "size": 300, "strokeWidth": 1.3, "opacity": 1},
       "encoding": {"x": {"field": "size", "type": "quantitative"}, "y": {"field": "value", "type": "quantitative", "axis": null}, "color": {"field": "method", "type": "nominal"}, "stroke": {"field": "method", "type": "nominal", "legend": null}, "fillOpacity": {"field": "best", "type": "ordinal", "legend": null}}},
      {"data": {"values": [{"z": 0}]}, "mark": {"type": "rule", "strokeDash": [6, 5], "color": "#666666", "strokeWidth": 1.4}, "encoding": {"y": {"field": "z", "type": "quantitative", "axis": {"values": [-0.5, -0.3, -0.1, 0.1, 0.3, 0.5, 0.7, 0.9], "orient": "left", "title": null, "labels": false, "ticks": false, "gridWidth": 0.8}}}}
    ]},
    {"width": 258, "height": 184, "resolve": {"axis": {"y": "independent"}}, "layer": [
      {"data": {"name": "err"}, "transform": [{"filter": "datum.panel == 'GxCS'"}], "mark": {"type": "rule", "color": "#666666", "strokeWidth": 1.8},
       "encoding": {"x": {"field": "size", "type": "quantitative", "scale": {"domain": [38.55, 290.45], "nice": false, "zero": false}, "axis": {"values": [50, 75, 100, 125, 150, 175, 200, 225, 250, 264.5, 279], "title": null}},
                    "y": {"field": "lo", "type": "quantitative", "scale": {"domain": [-0.54, 0.955], "nice": false, "zero": false}, "axis": {"values": [-0.4, -0.2, 0, 0.2, 0.4, 0.6, 0.8], "title": null, "labels": false, "ticks": false}},
                    "y2": {"field": "hi"}}},
      {"data": {"name": "pts"}, "transform": [{"filter": "datum.panel == 'GxCS' && datum.method != 'Whole diversity panel'"}], "mark": {"type": "line", "strokeWidth": 4.5, "strokeOpacity": 0.6},
       "encoding": {"x": {"field": "size", "type": "quantitative"}, "y": {"field": "value", "type": "quantitative", "axis": null}, "color": {"field": "method", "type": "nominal"}}},
      {"data": {"name": "pts"}, "transform": [{"filter": "datum.panel == 'GxCS'"}], "mark": {"type": "point", "filled": true, "shape": "M0,-1.155L1,0.577L-1,0.577Z", "size": 300, "strokeWidth": 1.3, "opacity": 1},
       "encoding": {"x": {"field": "size", "type": "quantitative"}, "y": {"field": "value", "type": "quantitative", "axis": null}, "color": {"field": "method", "type": "nominal"}, "stroke": {"field": "method", "type": "nominal", "legend": null}, "fillOpacity": {"field": "best", "type": "ordinal", "legend": null}}},
      {"data": {"values": [{"z": 0}]}, "mark": {"type": "rule", "strokeDash": [6, 5], "color": "#666666", "strokeWidth": 1.4}, "encoding": {"y": {"field": "z", "type": "quantitative", "axis": {"values": [-0.5, -0.3, -0.1, 0.1, 0.3, 0.5, 0.7, 0.9], "orient": "left", "title": null, "labels": false, "ticks": false, "gridWidth": 0.8}}}}
    ]},

    {"width": 258, "height": 13, "data": {"values": []}, "mark": "text", "encoding": {}, "view": {"stroke": null}},
    {"width": 258, "height": 13, "data": {"values": []}, "mark": "text", "encoding": {}, "view": {"stroke": null}},
    {"width": 258, "height": 13, "data": {"values": []}, "mark": "text", "encoding": {}, "view": {"stroke": null}},
    {"width": 258, "height": 13, "data": {"values": []}, "mark": "text", "encoding": {}, "view": {"stroke": null}},

    {"width": 258, "height": 40, "data": {"values": [{"panel": "TNxCS"}]}, "mark": {"type": "text", "fontSize": 22, "color": "#1a1a1a"}, "encoding": {"text": {"field": "panel"}}, "view": {"fill": "#d9d9d9"}},
    {"width": 258, "height": 40, "data": {"values": [{"panel": "TNxG"}]}, "mark": {"type": "text", "fontSize": 22, "color": "#1a1a1a"}, "encoding": {"text": {"field": "panel"}}, "view": {"fill": "#d9d9d9"}},
    {"width": 258, "height": 40, "data": {"values": []}, "mark": "text", "encoding": {}, "view": {"stroke": null}},
    {"width": 258, "height": 40, "data": {"values": []}, "mark": "text", "encoding": {}, "view": {"stroke": null}},

    {"width": 258, "height": 184, "resolve": {"axis": {"y": "independent"}}, "layer": [
      {"data": {"name": "err"}, "transform": [{"filter": "datum.panel == 'TNxCS'"}], "mark": {"type": "rule", "color": "#666666", "strokeWidth": 1.8},
       "encoding": {"x": {"field": "size", "type": "quantitative", "scale": {"domain": [38.55, 290.45], "nice": false, "zero": false}, "axis": {"values": [50, 75, 100, 125, 150, 175, 200, 225, 250, 264.5, 279], "title": null}},
                    "y": {"field": "lo", "type": "quantitative", "scale": {"domain": [-0.54, 0.955], "nice": false, "zero": false}, "axis": {"values": [-0.4, -0.2, 0, 0.2, 0.4, 0.6, 0.8], "format": ".1f", "title": null, "labelOverlap": false}},
                    "y2": {"field": "hi"}}},
      {"data": {"name": "pts"}, "transform": [{"filter": "datum.panel == 'TNxCS' && datum.method != 'Whole diversity panel'"}], "mark": {"type": "line", "strokeWidth": 4.5, "strokeOpacity": 0.6},
       "encoding": {"x": {"field": "size", "type": "quantitative"}, "y": {"field": "value", "type": "quantitative", "axis": null}, "color": {"field": "method", "type": "nominal"}}},
      {"data": {"name": "pts"}, "transform": [{"filter": "datum.panel == 'TNxCS'"}], "mark": {"type": "point", "filled": true, "shape": "M0,-1.155L1,0.577L-1,0.577Z", "size": 300, "strokeWidth": 1.3, "opacity": 1},
       "encoding": {"x": {"field": "size", "type": "quantitative"}, "y": {"field": "value", "type": "quantitative", "axis": null}, "color": {"field": "method", "type": "nominal"}, "stroke": {"field": "method", "type": "nominal", "legend": null}, "fillOpacity": {"field": "best", "type": "ordinal", "legend": null}}},
      {"data": {"values": [{"z": 0}]}, "mark": {"type": "rule", "strokeDash": [6, 5], "color": "#666666", "strokeWidth": 1.4}, "encoding": {"y": {"field": "z", "type": "quantitative", "axis": {"values": [-0.5, -0.3, -0.1, 0.1, 0.3, 0.5, 0.7, 0.9], "orient": "left", "title": null, "labels": false, "ticks": false, "gridWidth": 0.8}}}}
    ]},
    {"width": 258, "height": 184, "resolve": {"axis": {"y": "independent"}}, "layer": [
      {"data": {"name": "err"}, "transform": [{"filter": "datum.panel == 'TNxG'"}], "mark": {"type": "rule", "color": "#666666", "strokeWidth": 1.8},
       "encoding": {"x": {"field": "size", "type": "quantitative", "scale": {"domain": [38.55, 290.45], "nice": false, "zero": false}, "axis": {"values": [50, 75, 100, 125, 150, 175, 200, 225, 250, 264.5, 279], "title": "Training set size", "titleX": 263.5, "titlePadding": 12}},
                    "y": {"field": "lo", "type": "quantitative", "scale": {"domain": [-0.54, 0.955], "nice": false, "zero": false}, "axis": {"values": [-0.4, -0.2, 0, 0.2, 0.4, 0.6, 0.8], "title": null, "labels": false, "ticks": false}},
                    "y2": {"field": "hi"}}},
      {"data": {"name": "pts"}, "transform": [{"filter": "datum.panel == 'TNxG' && datum.method != 'Whole diversity panel'"}], "mark": {"type": "line", "strokeWidth": 4.5, "strokeOpacity": 0.6},
       "encoding": {"x": {"field": "size", "type": "quantitative"}, "y": {"field": "value", "type": "quantitative", "axis": null}, "color": {"field": "method", "type": "nominal"}}},
      {"data": {"name": "pts"}, "transform": [{"filter": "datum.panel == 'TNxG'"}], "mark": {"type": "point", "filled": true, "shape": "M0,-1.155L1,0.577L-1,0.577Z", "size": 300, "strokeWidth": 1.3, "opacity": 1},
       "encoding": {"x": {"field": "size", "type": "quantitative"}, "y": {"field": "value", "type": "quantitative", "axis": null}, "color": {"field": "method", "type": "nominal"}, "stroke": {"field": "method", "type": "nominal", "legend": null}, "fillOpacity": {"field": "best", "type": "ordinal", "legend": null}}},
      {"data": {"values": [{"z": 0}]}, "mark": {"type": "rule", "strokeDash": [6, 5], "color": "#666666", "strokeWidth": 1.4}, "encoding": {"y": {"field": "z", "type": "quantitative", "axis": {"values": [-0.5, -0.3, -0.1, 0.1, 0.3, 0.5, 0.7, 0.9], "orient": "left", "title": null, "labels": false, "ticks": false, "gridWidth": 0.8}}}}
    ]}
  ],
  "config": {
    "font": "Liberation Sans",
    "locale": {"number": {"decimal": ".", "thousands": ",", "grouping": [3], "currency": ["$", ""], "minus": "-"}},
    "view": {"stroke": "#333333", "strokeWidth": 1.2},
    "axis": {"domain": false, "grid": true, "gridColor": "#ebebeb", "labelColor": "#4d4d4d", "labelFontSize": 16, "tickColor": "#333333", "tickWidth": 1.1, "labelOverlap": false, "labelFlush": false, "titleFontSize": 21, "titleFontWeight": "normal", "titleColor": "#000000"},
    "axisX": {
      "gridWidth": {"condition": {"test": "datum.value % 50 == 0 || datum.value == 279", "value": 1.6}, "value": 0.8},
      "tickSize": {"condition": {"test": "datum.value % 50 == 0 || datum.value == 279", "value": 4}, "value": 0},
      "labelExpr": "(datum.value % 50 == 0 || datum.value == 279) ? datum.label : ''",
      "labelPadding": 2
    },
    "axisY": {
      "gridWidth": 1.6,
      "tickSize": 4,
      "labelPadding": 2
    }
  }
}
